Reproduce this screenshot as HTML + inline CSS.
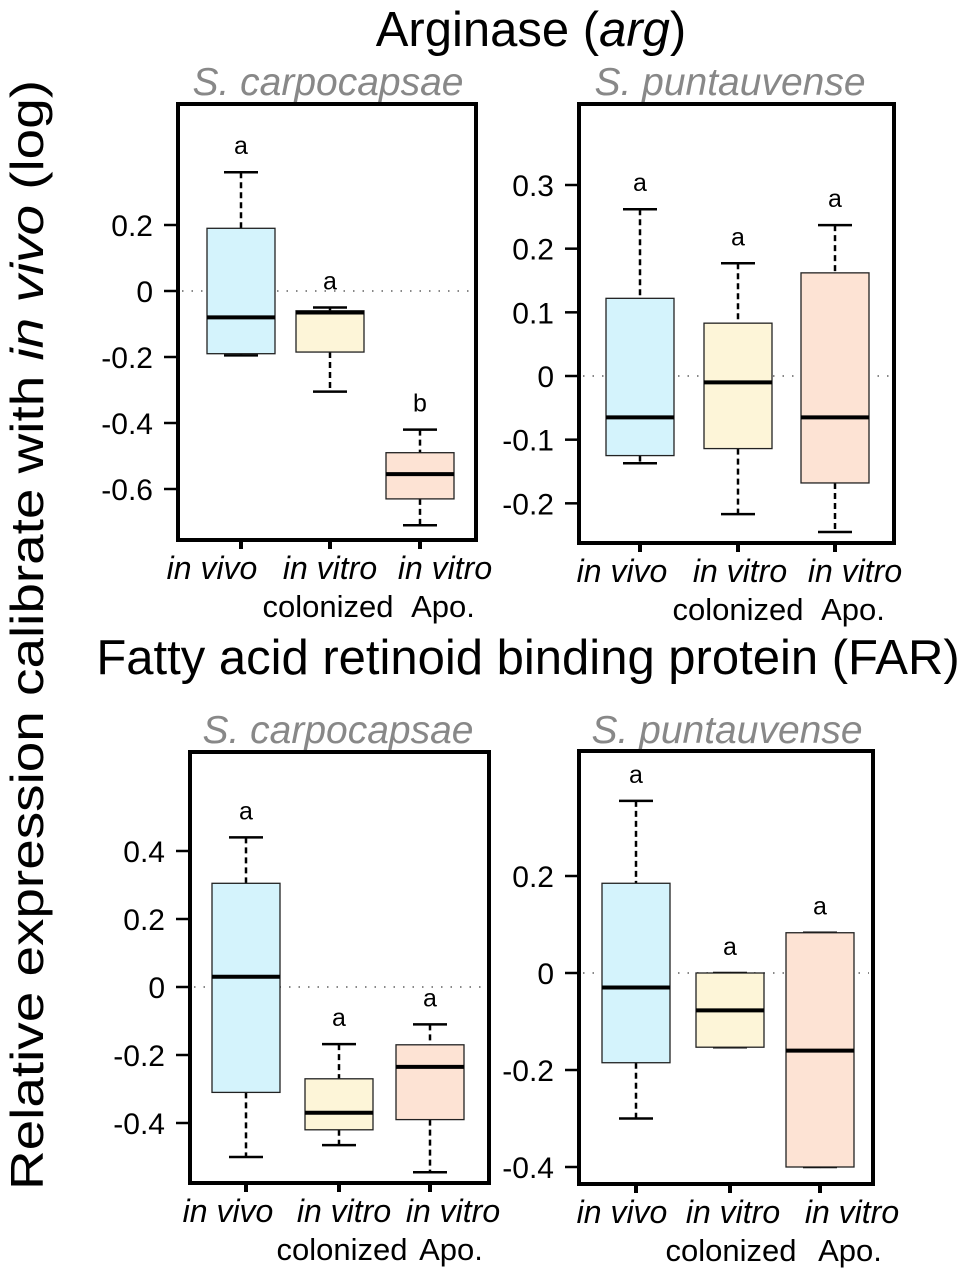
<!DOCTYPE html>
<html><head><meta charset="utf-8"><style>
html,body{margin:0;padding:0;background:#fff;}
svg{display:block;font-family:"Liberation Sans",Arial,sans-serif;}
</style></head><body>
<svg id="fig" width="975" height="1272" viewBox="0 0 975 1272" xmlns="http://www.w3.org/2000/svg">
<text x="531" y="46" font-size="49" text-anchor="middle">Arginase (<tspan font-style="italic">arg</tspan>)</text>
<text x="528" y="674" font-size="49" text-anchor="middle">Fatty acid retinoid binding protein (FAR)</text>
<text transform="translate(43,635) rotate(-90)" font-size="46" text-anchor="middle" textLength="1110" lengthAdjust="spacingAndGlyphs">Relative expression calibrate  with <tspan font-style="italic">in vivo</tspan> (log)</text>
<text x="328" y="95" font-size="39" font-style="italic" fill="#888" text-anchor="middle">S. carpocapsae</text>
<text x="730" y="95" font-size="39" font-style="italic" fill="#888" text-anchor="middle">S. puntauvense</text>
<text x="338" y="743" font-size="39" font-style="italic" fill="#888" text-anchor="middle">S. carpocapsae</text>
<text x="727" y="743" font-size="39" font-style="italic" fill="#888" text-anchor="middle">S. puntauvense</text>
</svg>
<script>
// Panel A: Arginase, S. carpocapsae
const argCarpWmax = [0.36, -0.05, -0.42];
const argCarpQ3 = [0.19, -0.06, -0.49];
const argCarpMed = [-0.08, -0.065, -0.555];
const argCarpQ1 = [-0.19, -0.185, -0.63];
const argCarpWmin = [-0.195, -0.305, -0.71];
const argCarpLetters = ["a", "a", "b"];
const argCarpTicks = [0.2, 0, -0.2, -0.4, -0.6];
const argCarpTickLabels = ["0.2", "0", "-0.2", "-0.4", "-0.6"];
// Panel B: Arginase, S. puntauvense
const argPuntWmax = [0.262, 0.177, 0.237];
const argPuntQ3 = [0.122, 0.083, 0.162];
const argPuntMed = [-0.065, -0.01, -0.065];
const argPuntQ1 = [-0.125, -0.114, -0.168];
const argPuntWmin = [-0.137, -0.217, -0.245];
const argPuntLetters = ["a", "a", "a"];
const argPuntTicks = [0.3, 0.2, 0.1, 0, -0.1, -0.2];
const argPuntTickLabels = ["0.3", "0.2", "0.1", "0", "-0.1", "-0.2"];
// Panel C: FAR, S. carpocapsae
const farCarpWmax = [0.44, -0.168, -0.11];
const farCarpQ3 = [0.305, -0.27, -0.17];
const farCarpMed = [0.03, -0.37, -0.235];
const farCarpQ1 = [-0.31, -0.42, -0.39];
const farCarpWmin = [-0.5, -0.465, -0.545];
const farCarpLetters = ["a", "a", "a"];
const farCarpTicks = [0.4, 0.2, 0, -0.2, -0.4];
const farCarpTickLabels = ["0.4", "0.2", "0", "-0.2", "-0.4"];
// Panel D: FAR, S. puntauvense
const farPuntWmax = [0.355, 0, 0.083];
const farPuntQ3 = [0.185, 0, 0.083];
const farPuntMed = [-0.03, -0.077, -0.16];
const farPuntQ1 = [-0.185, -0.153, -0.4];
const farPuntWmin = [-0.3, -0.153, -0.4];
const farPuntLetters = ["a", "a", "a"];
const farPuntTicks = [0.2, 0, -0.2, -0.4];
const farPuntTickLabels = ["0.2", "0", "-0.2", "-0.4"];

const fills = ["#d4f3fc", "#fdf5d8", "#fde3d4"];
const NS = "http://www.w3.org/2000/svg";
const svg = document.getElementById("fig");
function mk(tag, attrs, parent) {
  const e = document.createElementNS(NS, tag);
  for (const k in attrs) e.setAttribute(k, attrs[k]);
  (parent || svg).appendChild(e);
  return e;
}
function panel(id, fr, y0px, v0, y1px, v1, centers, labX, data, ticks, tickLabels, letters) {
  const yS = v => y0px + (v - v0) * (y1px - y0px) / (v1 - v0);
  const g = mk("g", {});
  
  
  const z = mk("line", {x1: fr.l + 4, x2: fr.r - 4, y1: yS(0), y2: yS(0), stroke: "#888", "stroke-width": 2, "stroke-dasharray": "1.5,8"}, g);
  
  
  const hw = 34;
  for (let i = 0; i < 3; i++) {
    const cx = centers[i];
    const bg = mk("g", {}, g);
    
    
    mk("line", {x1: cx, x2: cx, y1: yS(data.wmax[i]), y2: yS(data.q3[i]), stroke: "#000", "stroke-width": 2.5, "stroke-dasharray": "6,4"}, bg);
    mk("line", {x1: cx, x2: cx, y1: yS(data.q1[i]), y2: yS(data.wmin[i]), stroke: "#000", "stroke-width": 2.5, "stroke-dasharray": "6,4"}, bg);
    mk("line", {x1: cx - 17, x2: cx + 17, y1: yS(data.wmax[i]), y2: yS(data.wmax[i]), stroke: "#000", "stroke-width": 2.5}, bg);
    mk("line", {x1: cx - 17, x2: cx + 17, y1: yS(data.wmin[i]), y2: yS(data.wmin[i]), stroke: "#000", "stroke-width": 2.5}, bg);
    mk("rect", {x: cx - hw, y: yS(data.q3[i]), width: hw * 2, height: Math.max(1, yS(data.q1[i]) - yS(data.q3[i])), fill: fills[i], stroke: "#222", "stroke-width": 1.3}, bg);
    mk("line", {x1: cx - hw, x2: cx + hw, y1: yS(data.med[i]), y2: yS(data.med[i]), stroke: "#000", "stroke-width": 4}, bg);
    const t = mk("text", {x: cx, y: yS(data.wmax[i]) - 18, "font-size": 25, "text-anchor": "middle"}, bg);
    t.textContent = letters[i];
    
    
    const tk = mk("line", {x1: cx, x2: cx, y1: fr.b, y2: fr.b + 9, stroke: "#000", "stroke-width": 4}, g);
    
    
  }
  for (let j = 0; j < ticks.length; j++) {
    const y = yS(ticks[j]);
    const tl = mk("line", {x1: fr.l - 14, x2: fr.l, y1: y, y2: y, stroke: "#000", "stroke-width": 2.5}, g);
    
    
    const tt = mk("text", {x: fr.l - 25, y: y + 11, "font-size": 30, "text-anchor": "end"}, g);
    tt.textContent = tickLabels[j];
    
    
  }
  const f = mk("rect", {x: fr.l, y: fr.t, width: fr.r - fr.l, height: fr.b - fr.t, fill: "none", stroke: "#000", "stroke-width": 4}, g);
  
  
  const l1 = ["in vivo", "in vitro", "in vitro"];
  for (let i = 0; i < 3; i++) {
    const t = mk("text", {x: labX[i], y: fr.b + 39, "font-size": 32, "font-style": "italic", "text-anchor": "middle"}, g);
    t.textContent = l1[i];
    
    
  }
  const c = mk("text", {x: labX[1] - 2, y: fr.b + 77, "font-size": 31, "text-anchor": "middle"}, g);
  c.textContent = "colonized";
  
  
  const a = mk("text", {x: labX[2] - 2, y: fr.b + 77, "font-size": 31, "text-anchor": "middle"}, g);
  a.textContent = "Apo.";
  
  
}
panel("arg-carpocapsae", {l: 178, r: 476, t: 104, b: 540}, 225, 0.2, 291, 0, [241, 330, 420], [212, 330, 445],
  {wmax: argCarpWmax, q3: argCarpQ3, med: argCarpMed, q1: argCarpQ1, wmin: argCarpWmin}, argCarpTicks, argCarpTickLabels, argCarpLetters);
panel("arg-puntauvense", {l: 579, r: 894, t: 104, b: 543}, 185, 0.3, 376, 0, [640, 738, 835], [622, 740, 855],
  {wmax: argPuntWmax, q3: argPuntQ3, med: argPuntMed, q1: argPuntQ1, wmin: argPuntWmin}, argPuntTicks, argPuntTickLabels, argPuntLetters);
panel("far-carpocapsae", {l: 190, r: 489, t: 752, b: 1183}, 851, 0.4, 987, 0, [246, 339, 430], [228, 344, 453],
  {wmax: farCarpWmax, q3: farCarpQ3, med: farCarpMed, q1: farCarpQ1, wmin: farCarpWmin}, farCarpTicks, farCarpTickLabels, farCarpLetters);
panel("far-puntauvense", {l: 579, r: 873, t: 751, b: 1184}, 876, 0.2, 973, 0, [636, 730, 820], [622, 733, 852],
  {wmax: farPuntWmax, q3: farPuntQ3, med: farPuntMed, q1: farPuntQ1, wmin: farPuntWmin}, farPuntTicks, farPuntTickLabels, farPuntLetters);
</script>
</body></html>
